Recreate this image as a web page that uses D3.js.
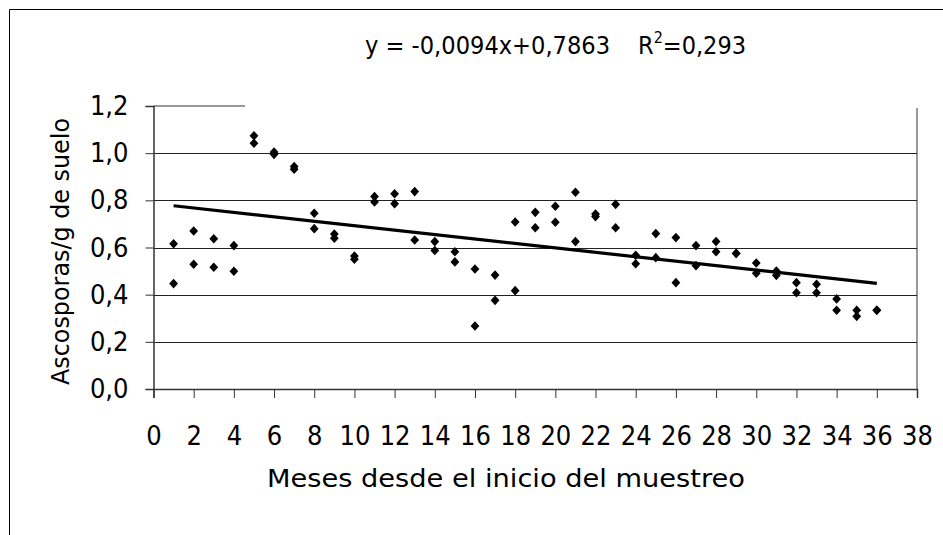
<!DOCTYPE html>
<html>
<head>
<meta charset="utf-8">
<script src="https://cdn.jsdelivr.net/npm/d3@7"></script>
<style>
  html, body { margin: 0; padding: 0; background: #fff; }
  svg { display: block; }
</style>
</head>
<body>
<svg id="chart" width="943" height="535"></svg>
<script>
// Months since start of sampling, two replicate counts per month
const months = [1,2,3,4,5,6,7,8,9,10,11,12,13,14,15,16,17,18,
                19,20,21,22,23,24,25,26,27,28,29,30,31,32,33,34,35,36];
const replicaA = [0.616,0.670,0.637,0.608,1.074,1.005,0.943,0.745,0.657,0.564,0.816,0.828,
                  0.837,0.625,0.582,0.509,0.483,0.708,0.749,0.775,0.834,0.742,0.783,0.567,
                  0.659,0.642,0.608,0.625,0.575,0.534,0.500,0.451,0.444,0.382,0.334,0.334];
const replicaB = [0.447,0.529,0.516,0.499,1.042,0.995,0.932,0.680,0.639,0.550,0.793,0.786,
                  0.632,0.587,0.539,0.267,0.376,0.417,0.684,0.707,0.625,0.731,0.684,0.531,
                  0.557,0.451,0.523,0.582,0.575,0.491,0.482,0.408,0.408,0.334,0.308,0.334];
const xTicks = [0,2,4,6,8,10,12,14,16,18,20,22,24,26,28,30,32,34,36,38];
const yTicks = [0,0.2,0.4,0.6,0.8,1.0,1.2];
// Linear trend: y = slope*x + intercept
const slope = -0.0094;
const intercept = 0.7863;
const rSquared = "0,293";

const svg = d3.select("#chart");
// Spanish decimal comma and an ASCII hyphen for negatives
const fmtComma = v => d3.format(".1f")(v).replace(".", ",");
const fmt4 = v => d3.format(".4f")(v).replace(".", ",").replace("\u2212", "-");

const x = d3.scaleLinear().domain([0, 38]).range([153.5, 917]);
const y = d3.scaleLinear().domain([0, 1.2]).range([389, 106]);

const tickFont = "'DejaVu Sans Condensed','DejaVu Sans',sans-serif";
const titleFont = "'DejaVu Sans','Liberation Sans',sans-serif";

// Outer chart frame
svg.append("path")
  .attr("d", "M9.5,535 L9.5,9.5 L943,9.5")
  .attr("fill", "none").attr("stroke", "#000").attr("stroke-width", 1);

// Plot area border (top segment and right side)
svg.append("line")
  .attr("x1", x(0)).attr("x2", 245).attr("y1", y(1.2)).attr("y2", y(1.2))
  .attr("stroke", "#999").attr("stroke-width", 2);
svg.append("line")
  .attr("x1", x(38)).attr("x2", x(38)).attr("y1", 108).attr("y2", y(0))
  .attr("stroke", "#999").attr("stroke-width", 2);

// Horizontal gridlines
svg.append("g")
  .selectAll("line")
  .data(yTicks.filter(v => v > 0 && v < 1.2))
  .join("line")
  .attr("x1", x(0)).attr("x2", x(38))
  .attr("y1", d => Math.round(y(d)) + 0.5).attr("y2", d => Math.round(y(d)) + 0.5)
  .attr("stroke", "#222").attr("stroke-width", 1);

// Y axis
const yAxis = svg.append("g")
  .attr("transform", `translate(${x(0)},0)`)
  .call(d3.axisLeft(y).tickValues(yTicks).tickFormat(fmtComma).tickSize(8).tickPadding(17));
yAxis.select(".domain").attr("stroke", "#333").attr("stroke-width", 1.5);
yAxis.selectAll(".tick line").attr("stroke", "#333");
yAxis.selectAll(".tick text")
  .attr("font-family", tickFont).attr("font-stretch", "condensed")
  .attr("font-size", 27).attr("fill", "#000");

// X axis
const xAxis = svg.append("g")
  .attr("transform", `translate(0,${y(0)})`)
  .call(d3.axisBottom(x).tickValues(xTicks).tickFormat(d3.format("d")).tickSize(9).tickPadding(28));
xAxis.select(".domain").attr("stroke", "#333").attr("stroke-width", 1.5);
xAxis.selectAll(".tick line").attr("stroke", "#333");
xAxis.selectAll(".tick text")
  .attr("font-family", tickFont).attr("font-stretch", "condensed")
  .attr("font-size", 27).attr("fill", "#000");

// Trend line over the sampled months
const x0 = d3.min(months), x1 = d3.max(months);
svg.append("line")
  .attr("x1", x(x0)).attr("y1", y(slope * x0 + intercept))
  .attr("x2", x(x1)).attr("y2", y(slope * x1 + intercept))
  .attr("stroke", "#000").attr("stroke-width", 3.2);

// Diamond markers
const points = months.flatMap((m, i) => [[m, replicaA[i]], [m, replicaB[i]]]);
const diamond = "M0,-4.8L4.4,0L0,4.8L-4.4,0Z";
svg.append("g")
  .selectAll("path")
  .data(points)
  .join("path")
  .attr("d", diamond)
  .attr("transform", d => `translate(${x(d[0])},${y(d[1])})`)
  .attr("fill", "#000");

// Regression equation
const eq = svg.append("g")
  .attr("font-family", tickFont).attr("font-stretch", "condensed")
  .attr("font-size", 25).attr("fill", "#000");
eq.append("text").attr("x", 365).attr("y", 54)
  .attr("textLength", 245).attr("lengthAdjust", "spacingAndGlyphs")
  .text(`y =  ${fmt4(slope)}x+${fmt4(intercept)}`);
const r2 = eq.append("text").attr("x", 638).attr("y", 54);
r2.append("tspan").text("R");
r2.append("tspan").attr("dy", -11).attr("font-size", 16).text("2");
r2.append("tspan").attr("dy", 11).text("=" + rSquared);

// Axis titles
svg.append("text")
  .attr("x", 267).attr("y", 487)
  .attr("font-family", titleFont).attr("font-size", 25).attr("fill", "#000")
  .attr("textLength", 478).attr("lengthAdjust", "spacingAndGlyphs")
  .text("Meses desde el inicio del muestreo");

svg.append("text")
  .attr("transform", "translate(69,385) rotate(-90)")
  .attr("font-family", titleFont).attr("font-size", 24).attr("fill", "#000")
  .attr("textLength", 267).attr("lengthAdjust", "spacingAndGlyphs")
  .text("Ascosporas/g de suelo");
</script>
</body>
</html>
